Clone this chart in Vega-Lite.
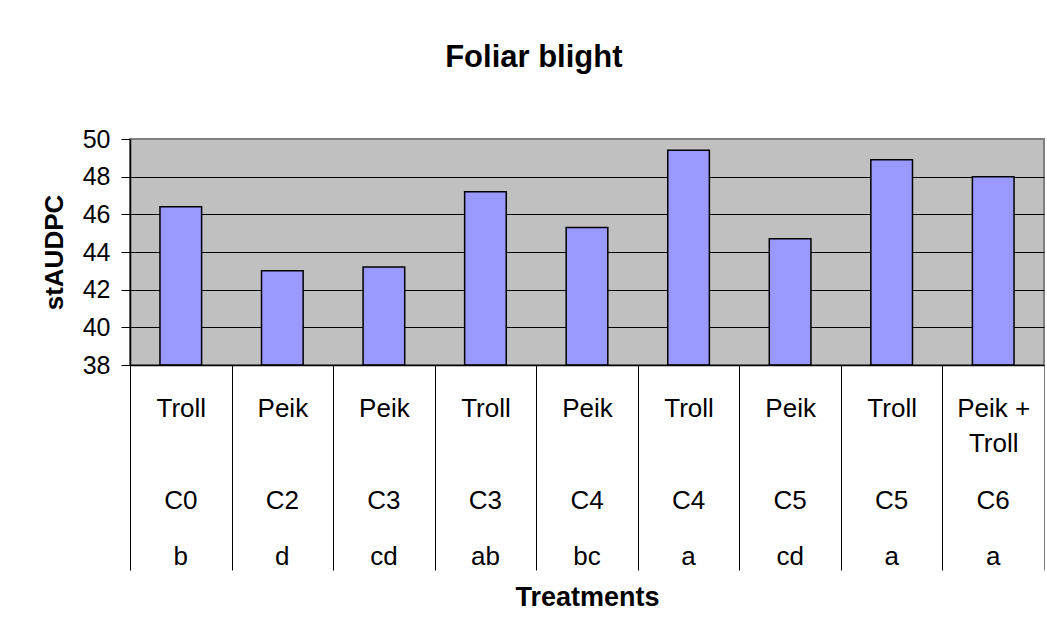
{
  "$schema": "https://vega.github.io/schema/vega-lite/v6.json",
  "width": 914,
  "height": 226,
  "autosize": {"type": "none"},
  "padding": {"left": 130, "top": 139, "right": 3, "bottom": 273},
  "background": "white",
  "title": {
    "text": "Foliar blight",
    "font": "Liberation Sans",
    "fontSize": 31,
    "fontWeight": "bold",
    "color": "black",
    "anchor": "middle",
    "frame": "bounds",
    "baseline": "bottom",
    "offset": 22,
    "dx": -9
  },
  "data": {
    "values": [
      {"cultivar": "Troll", "treatment": "C0", "letter": "b", "stAUDPC": 46.4},
      {"cultivar": "Peik", "treatment": "C2", "letter": "d", "stAUDPC": 43.0},
      {"cultivar": "Peik", "treatment": "C3", "letter": "cd", "stAUDPC": 43.2},
      {"cultivar": "Troll", "treatment": "C3", "letter": "ab", "stAUDPC": 47.2},
      {"cultivar": "Peik", "treatment": "C4", "letter": "bc", "stAUDPC": 45.3},
      {"cultivar": "Troll", "treatment": "C4", "letter": "a", "stAUDPC": 49.4},
      {"cultivar": "Peik", "treatment": "C5", "letter": "cd", "stAUDPC": 44.7},
      {"cultivar": "Troll", "treatment": "C5", "letter": "a", "stAUDPC": 48.9},
      {"cultivar": "Peik +~Troll", "treatment": "C6", "letter": "a", "stAUDPC": 48.0}
    ]
  },
  "transform": [
    {"calculate": "datum.cultivar + '|' + datum.treatment + '|' + datum.letter", "as": "key"}
  ],
  "layer": [
    {
      "mark": {"type": "bar", "fill": "#9999FF", "stroke": "black", "strokeWidth": 1.5, "width": {"band": 0.41}},
      "encoding": {
        "x": {
          "field": "key",
          "type": "nominal",
          "sort": null,
          "scale": {"type": "band", "paddingInner": 0, "paddingOuter": 0},
          "axis": {
            "orient": "bottom",
            "zindex": 1,
            "domain": true,
            "domainColor": "black",
            "domainWidth": 1.5,
            "ticks": true,
            "tickBand": "extent",
            "tickSize": 205,
            "tickColor": {"condition": {"test": "datum.value === 'Peik +~Troll|C6|a'", "value": "#808080"}, "value": "black"},
            "tickWidth": 1,
            "grid": false,
            "labelAngle": 0,
            "labelBaseline": "top",
            "labelPadding": -174.5,
            "labelFontSize": 26,
            "labelLineHeight": 35,
            "labelColor": "black",
            "labelOverlap": false,
            "labelExpr": "isString(datum.value) ? split(split(datum.value, '|')[0], '~') : ''",
            "title": "Treatments",
            "titleFontSize": 27,
            "titleFontWeight": "bold",
            "titleColor": "black",
            "titlePadding": 19
          }
        },
        "y": {
          "field": "stAUDPC",
          "type": "quantitative",
          "scale": {"domain": [38, 50], "nice": false, "zero": false},
          "axis": {
            "values": [38, 40, 42, 44, 46, 48, 50],
            "grid": true,
            "gridColor": {"condition": {"test": "datum.value === 50", "value": "#808080"}, "value": "black"},
            "gridWidth": 1,
            "domain": true,
            "domainColor": "black",
            "domainWidth": 1.5,
            "ticks": true,
            "tickColor": "black",
            "tickSize": 9,
            "tickWidth": 1,
            "labelFontSize": 25,
            "labelColor": "black",
            "labelPadding": 11,
            "title": "stAUDPC",
            "titleFontSize": 26,
            "titleFontWeight": "bold",
            "titleColor": "black",
            "titlePadding": 15
          }
        },
        "y2": {"datum": 38}
      }
    },
    {
      "mark": {"type": "rule", "opacity": 0},
      "encoding": {
        "x": {
          "field": "key",
          "type": "nominal",
          "sort": null,
          "scale": {"type": "band", "paddingInner": 0, "paddingOuter": 0},
          "axis": {
            "orient": "bottom",
            "domain": false,
            "ticks": false,
            "grid": false,
            "labelAngle": 0,
            "labelBaseline": "top",
            "labelPadding": 122,
            "labelFontSize": 26,
            "labelColor": "black",
            "labelOverlap": false,
            "labelExpr": "isString(datum.value) ? split(datum.value, '|')[1] : ''",
            "title": null
          }
        }
      }
    },
    {
      "mark": {"type": "rule", "opacity": 0},
      "encoding": {
        "x": {
          "field": "key",
          "type": "nominal",
          "sort": null,
          "scale": {"type": "band", "paddingInner": 0, "paddingOuter": 0},
          "axis": {
            "orient": "bottom",
            "domain": false,
            "ticks": false,
            "grid": false,
            "labelAngle": 0,
            "labelBaseline": "top",
            "labelPadding": 178,
            "labelFontSize": 26,
            "labelColor": "black",
            "labelOverlap": false,
            "labelExpr": "isString(datum.value) ? split(datum.value, '|')[2] : ''",
            "title": null
          }
        }
      }
    }
  ],
  "resolve": {"axis": {"x": "independent"}},
  "config": {
    "font": "Liberation Sans",
    "view": {"fill": "#C0C0C0", "stroke": "#808080", "strokeWidth": 2}
  }
}
